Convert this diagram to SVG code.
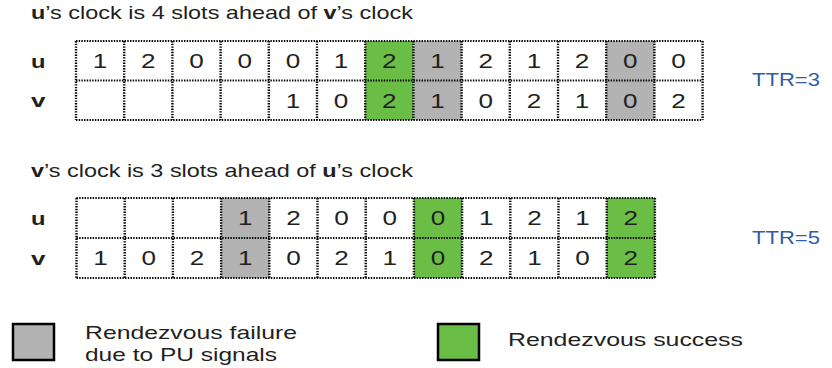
<svg xmlns="http://www.w3.org/2000/svg" width="832" height="368" viewBox="0 0 832 368">
<style>
  text { font-family: "Liberation Sans", Arial, sans-serif; fill: #231F20; }
  .title { font-size: 19px; }
  .b { font-weight: bold; }
  .lbl { font-size: 19px; font-weight: bold; }
  .d { font-size: 20px; text-anchor: middle; }
  .ttr { font-size: 19px; fill: #2F5DAA; }
  .leg { font-size: 19px; }
  .g { fill: #B3B3B3; }
  .s { fill: #6ABD45; }
  .h { stroke: #000; stroke-width: 1.8; stroke-dasharray: 1.4 1.3; fill: none; }
  .v { stroke: #000; stroke-width: 2.4; stroke-dasharray: 1.4 1.3; fill: none; }
  .box { stroke: #000; stroke-width: 2.5; }
</style>

<g id="title-top">
  <text class="title" x="31" y="19" textLength="382" lengthAdjust="spacingAndGlyphs"><tspan class="b">u</tspan>’s clock is 4 slots ahead of <tspan class="b">v</tspan>’s clock</text>
</g>

<g id="table-top">
  <rect class="s" x="365.2" y="41" width="48.2" height="79"/>
  <rect class="g" x="413.4" y="41" width="48.2" height="79"/>
  <rect class="g" x="606.2" y="41" width="48.2" height="79"/>
  <g>
    <line class="h" x1="76" y1="41" x2="702.6" y2="41"/>
    <line class="h" x1="76" y1="80.5" x2="702.6" y2="80.5"/>
    <line class="h" x1="76" y1="120" x2="702.6" y2="120"/>
    <line class="v" x1="76" y1="41" x2="76" y2="120"/>
    <line class="v" x1="124.2" y1="41" x2="124.2" y2="120"/>
    <line class="v" x1="172.4" y1="41" x2="172.4" y2="120"/>
    <line class="v" x1="220.6" y1="41" x2="220.6" y2="120"/>
    <line class="v" x1="268.8" y1="41" x2="268.8" y2="120"/>
    <line class="v" x1="317" y1="41" x2="317" y2="120"/>
    <line class="v" x1="365.2" y1="41" x2="365.2" y2="120"/>
    <line class="v" x1="413.4" y1="41" x2="413.4" y2="120"/>
    <line class="v" x1="461.6" y1="41" x2="461.6" y2="120"/>
    <line class="v" x1="509.8" y1="41" x2="509.8" y2="120"/>
    <line class="v" x1="558" y1="41" x2="558" y2="120"/>
    <line class="v" x1="606.2" y1="41" x2="606.2" y2="120"/>
    <line class="v" x1="654.4" y1="41" x2="654.4" y2="120"/>
    <line class="v" x1="702.6" y1="41" x2="702.6" y2="120"/>
  </g>
  <text class="lbl" x="31" y="67.5" textLength="14.5" lengthAdjust="spacingAndGlyphs">u</text>
  <text class="lbl" x="31" y="107" textLength="14.5" lengthAdjust="spacingAndGlyphs">v</text>
  <g id="row-top-u">
    <text class="d" x="100.1" y="68" textLength="14.5" lengthAdjust="spacingAndGlyphs">1</text>
    <text class="d" x="148.3" y="68" textLength="14.5" lengthAdjust="spacingAndGlyphs">2</text>
    <text class="d" x="196.5" y="68" textLength="14.5" lengthAdjust="spacingAndGlyphs">0</text>
    <text class="d" x="244.7" y="68" textLength="14.5" lengthAdjust="spacingAndGlyphs">0</text>
    <text class="d" x="292.9" y="68" textLength="14.5" lengthAdjust="spacingAndGlyphs">0</text>
    <text class="d" x="341.1" y="68" textLength="14.5" lengthAdjust="spacingAndGlyphs">1</text>
    <text class="d" x="389.3" y="68" textLength="14.5" lengthAdjust="spacingAndGlyphs">2</text>
    <text class="d" x="437.5" y="68" textLength="14.5" lengthAdjust="spacingAndGlyphs">1</text>
    <text class="d" x="485.7" y="68" textLength="14.5" lengthAdjust="spacingAndGlyphs">2</text>
    <text class="d" x="533.9" y="68" textLength="14.5" lengthAdjust="spacingAndGlyphs">1</text>
    <text class="d" x="582.1" y="68" textLength="14.5" lengthAdjust="spacingAndGlyphs">2</text>
    <text class="d" x="630.3" y="68" textLength="14.5" lengthAdjust="spacingAndGlyphs">0</text>
    <text class="d" x="678.5" y="68" textLength="14.5" lengthAdjust="spacingAndGlyphs">0</text>
  </g>
  <g id="row-top-v">
    <text class="d" x="292.9" y="107.5" textLength="14.5" lengthAdjust="spacingAndGlyphs">1</text>
    <text class="d" x="341.1" y="107.5" textLength="14.5" lengthAdjust="spacingAndGlyphs">0</text>
    <text class="d" x="389.3" y="107.5" textLength="14.5" lengthAdjust="spacingAndGlyphs">2</text>
    <text class="d" x="437.5" y="107.5" textLength="14.5" lengthAdjust="spacingAndGlyphs">1</text>
    <text class="d" x="485.7" y="107.5" textLength="14.5" lengthAdjust="spacingAndGlyphs">0</text>
    <text class="d" x="533.9" y="107.5" textLength="14.5" lengthAdjust="spacingAndGlyphs">2</text>
    <text class="d" x="582.1" y="107.5" textLength="14.5" lengthAdjust="spacingAndGlyphs">1</text>
    <text class="d" x="630.3" y="107.5" textLength="14.5" lengthAdjust="spacingAndGlyphs">0</text>
    <text class="d" x="678.5" y="107.5" textLength="14.5" lengthAdjust="spacingAndGlyphs">2</text>
  </g>
</g>
<g id="ttr-top">
  <text class="ttr" x="752" y="86" textLength="68" lengthAdjust="spacingAndGlyphs">TTR=3</text>
</g>

<g id="title-bottom">
  <text class="title" x="31" y="177" textLength="382" lengthAdjust="spacingAndGlyphs"><tspan class="b">v</tspan>’s clock is 3 slots ahead of <tspan class="b">u</tspan>’s clock</text>
</g>

<g id="table-bottom">
  <rect class="g" x="221.1" y="198" width="48.2" height="80"/>
  <rect class="s" x="413.9" y="198" width="48.2" height="80"/>
  <rect class="s" x="606.7" y="198" width="48.2" height="80"/>
  <g>
    <line class="h" x1="76.5" y1="198" x2="654.9" y2="198"/>
    <line class="h" x1="76.5" y1="238" x2="654.9" y2="238"/>
    <line class="h" x1="76.5" y1="278" x2="654.9" y2="278"/>
    <line class="v" x1="76.5" y1="198" x2="76.5" y2="278"/>
    <line class="v" x1="124.7" y1="198" x2="124.7" y2="278"/>
    <line class="v" x1="172.9" y1="198" x2="172.9" y2="278"/>
    <line class="v" x1="221.1" y1="198" x2="221.1" y2="278"/>
    <line class="v" x1="269.3" y1="198" x2="269.3" y2="278"/>
    <line class="v" x1="317.5" y1="198" x2="317.5" y2="278"/>
    <line class="v" x1="365.7" y1="198" x2="365.7" y2="278"/>
    <line class="v" x1="413.9" y1="198" x2="413.9" y2="278"/>
    <line class="v" x1="462.1" y1="198" x2="462.1" y2="278"/>
    <line class="v" x1="510.3" y1="198" x2="510.3" y2="278"/>
    <line class="v" x1="558.5" y1="198" x2="558.5" y2="278"/>
    <line class="v" x1="606.7" y1="198" x2="606.7" y2="278"/>
    <line class="v" x1="654.9" y1="198" x2="654.9" y2="278"/>
  </g>
  <text class="lbl" x="31" y="224.5" textLength="14.5" lengthAdjust="spacingAndGlyphs">u</text>
  <text class="lbl" x="31" y="264.5" textLength="14.5" lengthAdjust="spacingAndGlyphs">v</text>
  <g id="row-bottom-u">
    <text class="d" x="245.2" y="225" textLength="14.5" lengthAdjust="spacingAndGlyphs">1</text>
    <text class="d" x="293.4" y="225" textLength="14.5" lengthAdjust="spacingAndGlyphs">2</text>
    <text class="d" x="341.6" y="225" textLength="14.5" lengthAdjust="spacingAndGlyphs">0</text>
    <text class="d" x="389.8" y="225" textLength="14.5" lengthAdjust="spacingAndGlyphs">0</text>
    <text class="d" x="438" y="225" textLength="14.5" lengthAdjust="spacingAndGlyphs">0</text>
    <text class="d" x="486.2" y="225" textLength="14.5" lengthAdjust="spacingAndGlyphs">1</text>
    <text class="d" x="534.4" y="225" textLength="14.5" lengthAdjust="spacingAndGlyphs">2</text>
    <text class="d" x="582.6" y="225" textLength="14.5" lengthAdjust="spacingAndGlyphs">1</text>
    <text class="d" x="630.8" y="225" textLength="14.5" lengthAdjust="spacingAndGlyphs">2</text>
  </g>
  <g id="row-bottom-v">
    <text class="d" x="100.6" y="265" textLength="14.5" lengthAdjust="spacingAndGlyphs">1</text>
    <text class="d" x="148.8" y="265" textLength="14.5" lengthAdjust="spacingAndGlyphs">0</text>
    <text class="d" x="197" y="265" textLength="14.5" lengthAdjust="spacingAndGlyphs">2</text>
    <text class="d" x="245.2" y="265" textLength="14.5" lengthAdjust="spacingAndGlyphs">1</text>
    <text class="d" x="293.4" y="265" textLength="14.5" lengthAdjust="spacingAndGlyphs">0</text>
    <text class="d" x="341.6" y="265" textLength="14.5" lengthAdjust="spacingAndGlyphs">2</text>
    <text class="d" x="389.8" y="265" textLength="14.5" lengthAdjust="spacingAndGlyphs">1</text>
    <text class="d" x="438" y="265" textLength="14.5" lengthAdjust="spacingAndGlyphs">0</text>
    <text class="d" x="486.2" y="265" textLength="14.5" lengthAdjust="spacingAndGlyphs">2</text>
    <text class="d" x="534.4" y="265" textLength="14.5" lengthAdjust="spacingAndGlyphs">1</text>
    <text class="d" x="582.6" y="265" textLength="14.5" lengthAdjust="spacingAndGlyphs">0</text>
    <text class="d" x="630.8" y="265" textLength="14.5" lengthAdjust="spacingAndGlyphs">2</text>
  </g>
</g>
<g id="ttr-bottom">
  <text class="ttr" x="752" y="244" textLength="68" lengthAdjust="spacingAndGlyphs">TTR=5</text>
</g>

<g id="legend-failure">
  <rect class="g box" x="13" y="324" width="41" height="36"/>
  <text class="leg" x="85" y="339" textLength="212" lengthAdjust="spacingAndGlyphs">Rendezvous failure</text>
  <text class="leg" x="85" y="361" textLength="192" lengthAdjust="spacingAndGlyphs">due to PU signals</text>
</g>
<g id="legend-success">
  <rect class="s box" x="438" y="324" width="41" height="36"/>
  <text class="leg" x="508" y="346" textLength="235" lengthAdjust="spacingAndGlyphs">Rendezvous success</text>
</g>
</svg>
